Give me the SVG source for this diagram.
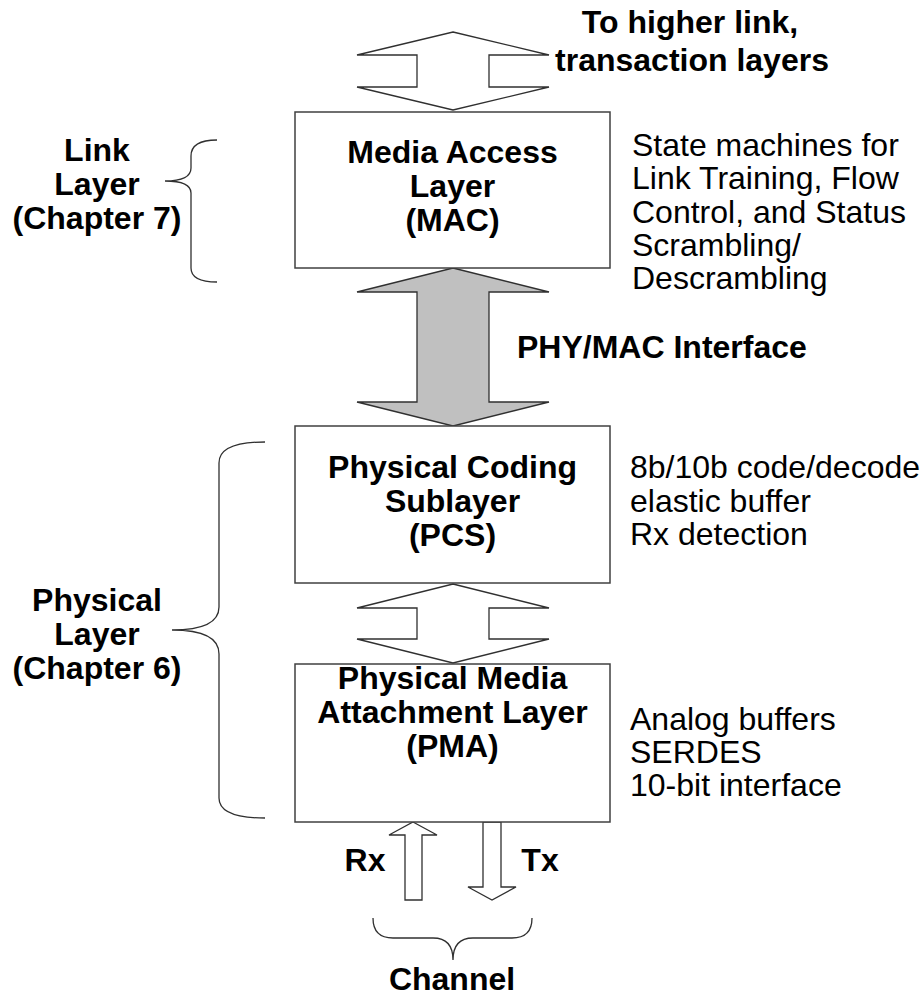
<svg xmlns="http://www.w3.org/2000/svg" width="924" height="997" viewBox="0 0 924 997">
<style>
.box{fill:#fff;stroke:#404040;stroke-width:1.5}
.arr{fill:#fff;stroke:#303030;stroke-width:1.3;stroke-linejoin:miter}
.garr{fill:#c0c0c0;stroke:#303030;stroke-width:1.3}
.brace{fill:none;stroke:#303030;stroke-width:1.3}
.b{font-family:"Liberation Sans",Arial,sans-serif;font-weight:bold;font-size:32px;fill:#000;text-anchor:middle}
.r{font-family:"Liberation Sans",Arial,sans-serif;font-size:32px;fill:#000}
</style>
<rect width="924" height="997" fill="#fff"/>
<g id="connectors">
  <polygon class="arr" points="453,32 549,55 489,55 489,87 549,87 453,110 357,87 417,87 417,55 357,55"/>
  <polygon class="garr" points="453,268 549,292 489,292 489,402 549,402 453,426 357,402 417,402 417,292 357,292"/>
  <polygon class="arr" points="453,584 549,608 489,608 489,639 549,639 453,663 357,639 417,639 417,608 357,608"/>
  <polygon class="arr" points="413,822 437,835 422,835 422,900 405,900 405,835 389,835"/>
  <polygon class="arr" points="483,822 501,822 501,887 516,887 492,900 468,887 483,887"/>
</g>
<g id="braces">
  <path class="brace" d="M217,140 Q191,140 191,156 L191,168 Q191,181 165,181 Q191,181 191,193 L191,268 Q191,282 217,282"/>
  <path class="brace" d="M265,442 Q219,442 219,463 L219,607 Q219,630 172,630 Q219,630 219,654 L219,798 Q219,818 265,818"/>
  <path class="brace" d="M373,918 Q373,938 393,938 L433,938 Q453,938 453,960 Q453,938 473,938 L512,938 Q532,938 532,918"/>
</g>
<g id="mac">
  <rect class="box" x="295" y="112" width="315" height="156"/>
  <text class="b" x="452.5" y="163">Media Access</text>
  <text class="b" x="452.5" y="197">Layer</text>
  <text class="b" x="452.5" y="231">(MAC)</text>
</g>
<g id="pcs">
  <rect class="box" x="295" y="426" width="315" height="157"/>
  <text class="b" x="452.5" y="478">Physical Coding</text>
  <text class="b" x="452.5" y="512">Sublayer</text>
  <text class="b" x="452.5" y="546">(PCS)</text>
</g>
<g id="pma">
  <rect class="box" x="295" y="664" width="315" height="158"/>
  <text class="b" x="452.5" y="689">Physical Media</text>
  <text class="b" x="452.5" y="723">Attachment Layer</text>
  <text class="b" x="452.5" y="757">(PMA)</text>
</g>
<g id="labels">
  <text class="b" x="690" y="33">To higher link,</text>
  <text class="b" x="692" y="71">transaction layers</text>
  <text class="b" x="97" y="161">Link</text>
  <text class="b" x="97" y="195">Layer</text>
  <text class="b" x="97" y="229">(Chapter 7)</text>
  <text class="b" x="97" y="611">Physical</text>
  <text class="b" x="97" y="645">Layer</text>
  <text class="b" x="97" y="679">(Chapter 6)</text>
  <text class="b" x="517" y="358" style="text-anchor:start">PHY/MAC Interface</text>
  <text class="b" x="365" y="871">Rx</text>
  <text class="b" x="540" y="871">Tx</text>
  <text class="b" x="452" y="990">Channel</text>
  <text class="r" x="632" y="156">State machines for</text>
  <text class="r" x="632" y="189">Link Training, Flow</text>
  <text class="r" x="632" y="223">Control, and Status</text>
  <text class="r" x="632" y="256">Scrambling/</text>
  <text class="r" x="632" y="289">Descrambling</text>
  <text class="r" x="630" y="478">8b/10b code/decode</text>
  <text class="r" x="630" y="512">elastic buffer</text>
  <text class="r" x="630" y="545">Rx detection</text>
  <text class="r" x="630" y="730">Analog buffers</text>
  <text class="r" x="630" y="763">SERDES</text>
  <text class="r" x="630" y="796">10-bit interface</text>
</g>
</svg>
